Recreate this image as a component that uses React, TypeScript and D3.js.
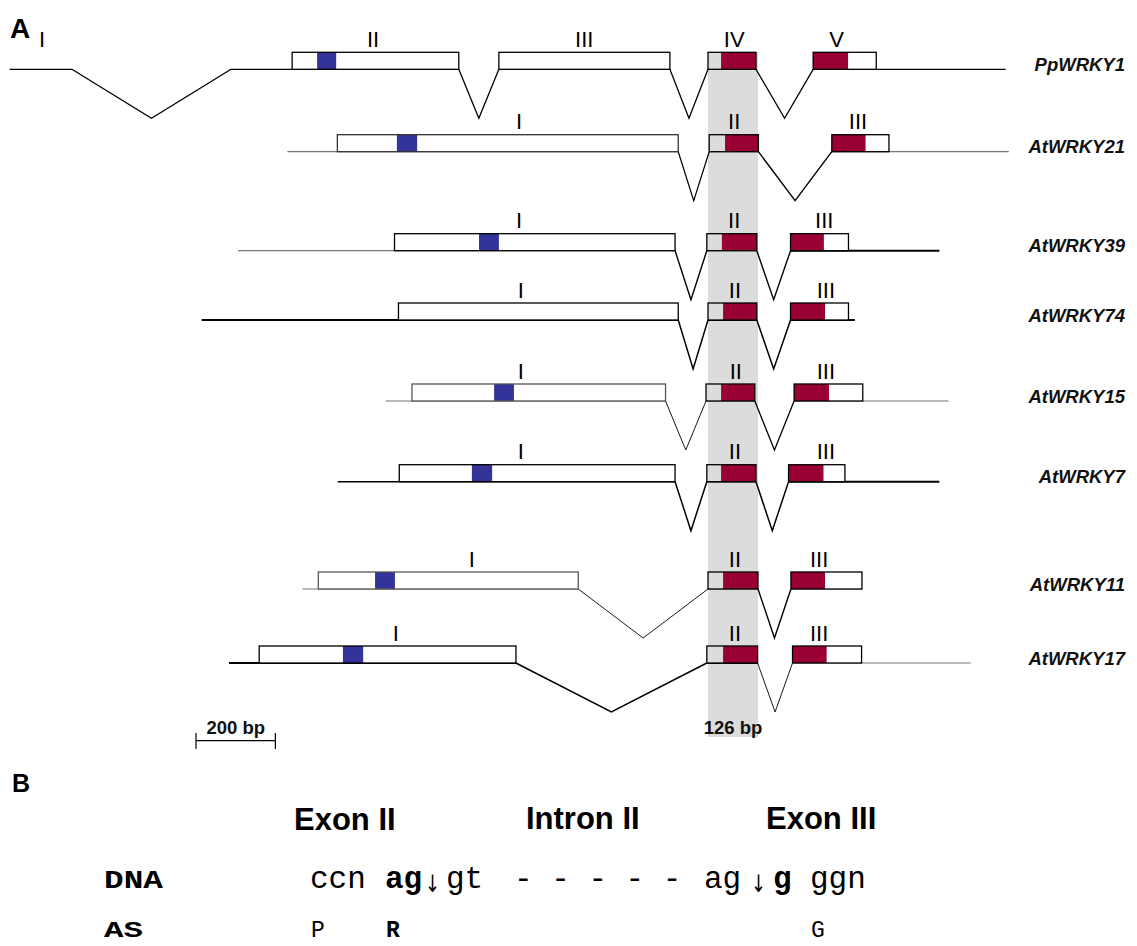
import React from "react";
import * as d3 from "d3";

// ---------- DATA (positions in bp, 0 = start of the 126 bp WRKY-exon segment) ----------
const genes = ["PpWRKY1", "AtWRKY21", "AtWRKY39", "AtWRKY74", "AtWRKY15", "AtWRKY7", "AtWRKY11", "AtWRKY17"];

const spans: [number, number][] = [
  [-1760, 750], [-1060, 758], [-1184, 583], [-1276, 370],
  [-812, 606], [-933, 583], [-1022, 388], [-1207, 662],
];

const introns: [number, number][][] = [
  [[-1603, -1202], [-628, -527], [-96, 0], [121, 265]],
  [[-75, 3], [127, 312]],
  [[-83, -3], [123, 208]],
  [[-75, 0], [123, 208]],
  [[-107, -5], [118, 217]],
  [[-83, -3], [121, 203]],
  [[-327, 0], [126, 209]],
  [[-484, -3], [125, 213]],
];

type Exon = { label: string; s: number; e: number; at: number; box?: boolean; blue?: [number, number]; red?: [number, number]; wrky?: boolean };

const exonsPpWRKY1: Exon[] = [
  { label: "I", s: -1760, e: -1603, at: -1678, box: false },
  { label: "II", s: -1048, e: -628, at: -844, blue: [-985, -937] },
  { label: "III", s: -527, e: -96, at: -312 },
  { label: "IV", s: 0, e: 121, at: 66, red: [33, 121], wrky: true },
  { label: "V", s: 265, e: 424, at: 324, red: [265, 353] },
];
const exonsAtWRKY21: Exon[] = [
  { label: "I", s: -934, e: -75, at: -476, blue: [-784, -733] },
  { label: "II", s: 3, e: 127, at: 66, red: [43, 127], wrky: true },
  { label: "III", s: 312, e: 456, at: 378, red: [312, 397] },
];
const exonsAtWRKY39: Exon[] = [
  { label: "I", s: -790, e: -83, at: -476, blue: [-577, -527] },
  { label: "II", s: -3, e: 123, at: 66, red: [35, 123], wrky: true },
  { label: "III", s: 208, e: 354, at: 293, red: [208, 292] },
];
const exonsAtWRKY74: Exon[] = [
  { label: "I", s: -780, e: -75, at: -472 },
  { label: "II", s: 0, e: 123, at: 68, red: [38, 123], wrky: true },
  { label: "III", s: 208, e: 354, at: 297, red: [208, 295] },
];
const exonsAtWRKY15: Exon[] = [
  { label: "I", s: -746, e: -107, at: -472, blue: [-539, -489] },
  { label: "II", s: -5, e: 118, at: 70, red: [33, 118], wrky: true },
  { label: "III", s: 217, e: 390, at: 297, red: [217, 305] },
];
const exonsAtWRKY7: Exon[] = [
  { label: "I", s: -778, e: -83, at: -472, blue: [-595, -544] },
  { label: "II", s: -3, e: 121, at: 68, red: [33, 121], wrky: true },
  { label: "III", s: 203, e: 345, at: 297, red: [203, 291] },
];
const exonsAtWRKY11: Exon[] = [
  { label: "I", s: -982, e: -327, at: -595, blue: [-839, -789] },
  { label: "II", s: 0, e: 126, at: 68, red: [38, 126], wrky: true },
  { label: "III", s: 209, e: 388, at: 280, red: [209, 295] },
];
const exonsAtWRKY17: Exon[] = [
  { label: "I", s: -1131, e: -484, at: -787, blue: [-920, -869] },
  { label: "II", s: -3, e: 125, at: 68, red: [38, 125], wrky: true },
  { label: "III", s: 213, e: 387, at: 280, red: [213, 299] },
];
const exonSets = [exonsPpWRKY1, exonsAtWRKY21, exonsAtWRKY39, exonsAtWRKY74, exonsAtWRKY15, exonsAtWRKY7, exonsAtWRKY11, exonsAtWRKY17];

const bandBp: [number, number] = [0, 126];
const scaleBarBp = 200;
const bandLabel = "126 bp";
const scaleLabel = "200 bp";

// Section B
const headers = ["Exon II", "Intron II", "Exon III"];

// ---------- LAYOUT / STYLE ----------
const W = 1137, H = 946;
const rowY = [69.3, 151.7, 250.7, 320, 401, 481.7, 589, 663];
const BOX_H = 17;
const DIP = 49;
const BLUE = "#333399";
const RED = "#990033";
const GREY = "#dcdcdc";

const lineStyles: Record<string, { left: [string, number]; right: [string, number]; box: string; intronW: number[] }> = {
  PpWRKY1: { left: ["#000", 1.3], right: ["#000", 1.3], box: "#000", intronW: [1.3, 1.3, 1.3, 1.3] },
  AtWRKY21: { left: ["#777", 1.3], right: ["#777", 1.3], box: "#333", intronW: [1.2, 1.4] },
  AtWRKY39: { left: ["#777", 1.3], right: ["#000", 2], box: "#000", intronW: [1.4, 1.4] },
  AtWRKY74: { left: ["#000", 2], right: ["#000", 2], box: "#000", intronW: [1.5, 1.5] },
  AtWRKY15: { left: ["#777", 1.1], right: ["#777", 1.1], box: "#555", intronW: [0.9, 1.3] },
  AtWRKY7: { left: ["#000", 1.5], right: ["#000", 2], box: "#000", intronW: [1.5, 1.5] },
  AtWRKY11: { left: ["#777", 1.2], right: ["#777", 1.2], box: "#555", intronW: [0.9, 1.4] },
  AtWRKY17: { left: ["#000", 1.8], right: ["#777", 1.2], box: "#000", intronW: [1.5, 0.9] },
};

const SANS = "'Liberation Sans', Arial, Helvetica, sans-serif";
const MONO = "'Courier New', 'Liberation Mono', monospace";
const ARROW = "'DejaVu Sans', sans-serif";

export default function App() {
  const x = d3.scaleLinear().domain(bandBp).range([708, 758]);

  const rows = genes.map((g, i) => {
    const y = rowY[i];
    const st = lineStyles[g];
    const [s0, s1] = spans[i];
    const ints = introns[i];
    const segs: [number, number][] = [];
    let cur = s0;
    ints.forEach(([a, b]) => {
      if (a > cur) segs.push([cur, a]);
      cur = b;
    });
    if (s1 > cur) segs.push([cur, s1]);
    const line = d3.line<[number, number]>();
    return (
      <g key={g}>
        {segs.map(([a, b], k) => {
          const sty = a < 0 ? st.left : st.right;
          return <line key={"s" + k} x1={x(a)} x2={x(b)} y1={y} y2={y} stroke={sty[0]} strokeWidth={sty[1]} />;
        })}
        {ints.map(([a, b], k) => (
          <path key={"i" + k} d={line([[x(a), y], [x((a + b) / 2), y + DIP], [x(b), y]]) || ""} fill="none" stroke="#000" strokeWidth={st.intronW[k] ?? 1.3} />
        ))}
        {exonSets[i].map((ex, k) => {
          const top = y - BOX_H;
          return (
            <g key={"e" + k}>
              {ex.box !== false && (
                <>
                  <rect x={x(ex.s)} y={top} width={x(ex.e) - x(ex.s)} height={BOX_H} fill={ex.wrky ? GREY : "#fff"} />
                  {ex.blue && <rect x={x(ex.blue[0])} y={top} width={x(ex.blue[1]) - x(ex.blue[0])} height={BOX_H} fill={BLUE} />}
                  {ex.red && <rect x={x(ex.red[0])} y={top} width={x(ex.red[1]) - x(ex.red[0])} height={BOX_H} fill={RED} />}
                  <rect x={x(ex.s)} y={top} width={x(ex.e) - x(ex.s)} height={BOX_H} fill="none" stroke={k === 0 ? st.box : "#000"} strokeWidth={1.3} />
                </>
              )}
              <text x={x(ex.at)} y={y - BOX_H - 5.5} textAnchor="middle" fontFamily={SANS} fontSize={22} fill="#000">{ex.label}</text>
            </g>
          );
        })}
        <text x={1125} y={y + 1.5} textAnchor="end" fontFamily={SANS} fontSize={18.5} fontWeight="bold" fontStyle="italic" fill="#111">{g}</text>
      </g>
    );
  });

  const sbX0 = 196;
  const sbX1 = sbX0 + (x(scaleBarBp) - x(0));

  const seqY = 887.5;
  const asY = 937;

  return (
    <svg width={W} height={H} style={{ position: "absolute", left: 0, top: 0, background: "#fff" }}>
      <rect x={0} y={0} width={W} height={H} fill="#fff" />
      <rect x={x(bandBp[0])} y={52} width={x(bandBp[1]) - x(bandBp[0])} height={685} fill={GREY} />
      <text x={10} y={38} fontFamily={SANS} fontSize={28} fontWeight="bold" fill="#000">A</text>
      {rows}
      <text x={(x(bandBp[0]) + x(bandBp[1])) / 2} y={734} textAnchor="middle" fontFamily={SANS} fontSize={18.5} fontWeight="bold" fill="#111">{bandLabel}</text>
      <line x1={sbX0} x2={sbX1} y1={740.7} y2={740.7} stroke="#000" strokeWidth={1.2} />
      <line x1={sbX0} x2={sbX0} y1={733} y2={749} stroke="#000" strokeWidth={1.2} />
      <line x1={sbX1} x2={sbX1} y1={733} y2={749} stroke="#000" strokeWidth={1.2} />
      <text x={(sbX0 + sbX1) / 2} y={734} textAnchor="middle" fontFamily={SANS} fontSize={18.5} fontWeight="bold" fill="#111">{scaleLabel}</text>

      <text x={12} y={792} fontFamily={SANS} fontSize={25} fontWeight="bold" fill="#000">B</text>
      <text x={294} y={830} fontFamily={SANS} fontSize={31} fontWeight="bold" fill="#000">{headers[0]}</text>
      <text x={526} y={829} fontFamily={SANS} fontSize={31} fontWeight="bold" fill="#000">{headers[1]}</text>
      <text x={766} y={829} fontFamily={SANS} fontSize={31} fontWeight="bold" fill="#000">{headers[2]}</text>

      <text x={104} y={seqY} fontFamily={MONO} fontSize={25} fontWeight="bold" textLength={59} lengthAdjust="spacingAndGlyphs" fill="#000">DNA</text>
      <text x={104} y={asY} fontFamily={MONO} fontSize={22} fontWeight="bold" textLength={39} lengthAdjust="spacingAndGlyphs" fill="#000">AS</text>

      <g fontFamily={MONO} fontSize={31} fill="#000">
        <text x={310} y={seqY}>ccn</text>
        <text x={385} y={seqY} fontWeight="bold">ag</text>
        <text x={425} y={seqY + 4} fontFamily={ARROW} fontSize={24} textLength={15} lengthAdjust="spacingAndGlyphs">↓</text>
        <text x={446} y={seqY}>gt</text>
        <text x={514} y={seqY}>- - - - -</text>
        <text x={704} y={seqY}>ag</text>
        <text x={751} y={seqY + 4} fontFamily={ARROW} fontSize={24} textLength={15} lengthAdjust="spacingAndGlyphs">↓</text>
        <text x={773} y={seqY} fontWeight="bold">g</text>
        <text x={810} y={seqY}>ggn</text>
      </g>
      <g fontFamily={MONO} fontSize={23} fill="#000">
        <text x={311} y={asY}>P</text>
        <text x={386} y={asY} fontWeight="bold">R</text>
        <text x={811} y={asY}>G</text>
      </g>
    </svg>
  );
}
